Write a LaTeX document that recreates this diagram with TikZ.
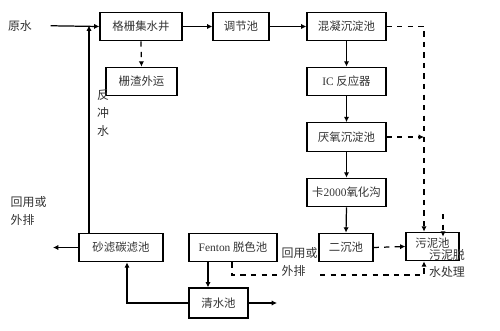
\documentclass[tikz,border=0pt]{standalone}
\usepackage{fontspec}
\setmainfont{Liberation Serif}
\newfontfamily\cjk{Noto Sans CJK SC}
\usetikzlibrary{arrows.meta}
\begin{document}
\begin{tikzpicture}[x=0.02cm,y=-0.02cm,line width=0.7pt,
  pool/.style={draw,minimum height=0.57cm,inner sep=1pt,text=black!80,font=\cjk\fontsize{6.5}{7.5}\selectfont},
  lbl/.style={text=black!80,font=\cjk\fontsize{6.8}{10}\selectfont,align=left,inner sep=0pt},
  flow/.style={-{Latex[length=3pt,width=3pt]}},
  sludge/.style={flow,dashed}]
  \useasboundingbox (0,0) rectangle (500,331);
  % treatment line
  \node[lbl] (raw) at (20,25.5) {原水};
  \node[pool,minimum width=1.64cm] (screen) at (141,26.5) {格栅集水井};
  \node[pool,minimum width=1.12cm] (equal) at (241,26.5) {调节池};
  \node[pool,minimum width=1.58cm] (coag) at (346.5,26.5) {混凝沉淀池};
  \node[pool,minimum width=1.42cm] (grit) at (141.5,81.5) {栅渣外运};
  \node[pool,minimum width=1.58cm] (ic) at (346.5,81.5) {{\rmfamily IC} 反应器};
  \node[pool,minimum width=1.58cm] (anaer) at (346.5,137) {厌氧沉淀池};
  \node[pool,minimum width=1.58cm] (ditch) at (346.5,192.5) {卡{\rmfamily 2000}氧化沟};
  \node[pool,minimum width=1.08cm] (settle) at (346,247.5) {二沉池};
  \node[pool,minimum width=1.06cm] (sludgepit) at (432.5,246.5) {\raisebox{4pt}{污泥池}};
  \node[pool,minimum width=1.76cm] (fenton) at (233,247.5) {{\rmfamily Fenton} 脱色池};
  \node[pool,minimum width=1.18cm,minimum height=0.6cm] (clear) at (218.5,303) {清水池};
  \node[pool,minimum width=1.68cm] (sand) at (121,247.5) {砂滤碳滤池};
  % labels
  \node[lbl,align=center] (backwash) at (103,113) {反\\冲\\水};
  \node[lbl,anchor=west] (reuseL) at (10,211) {回用或\\外排};
  \node[lbl,anchor=west] (reuseF) at (281,262) {回用或\\外排};
  \node[lbl] (dewater) at (447,263.5) {污泥脱\\水处理};
  % helper points
  \coordinate (bwfoot) at (89,233);
  \coordinate (bwtop) at (89,25.5);
  \coordinate (droptop) at (424,26.5);
  \coordinate (extra) at (443,214);
  \coordinate (fbend) at (232,275);
  \coordinate (fgap) at (277,275);
  \coordinate (fresume) at (320,275);
  \coordinate (fc) at (208,0);
  \coordinate (cs) at (127,0);
  \coordinate (clearout) at (277,303);
  \coordinate (reuse) at (53,247.5);
  % main flow
  \draw[flow,shorten <=0.36cm] (raw.east) -- (screen.west);
  \draw[flow] (screen.east) -- (equal.west);
  \draw[flow] (equal.east) -- (coag.west);
  \draw[flow] (coag.south) -- (ic.north);
  \draw[flow] (ic.south) -- (anaer.north);
  \draw[flow] (anaer.south) -- (ditch.north);
  \draw[flow] (ditch.south) -- (settle.north);
  \draw[flow] (fenton.south -| fc) -- (clear.north -| fc);
  \draw[flow] (clear.east) -- (clearout);
  \draw[flow] (clear.west) -| (sand.south -| cs);
  \draw[flow] (sand.west) -- (reuse);
  \draw[flow] (bwfoot) -- (bwtop);
  % sludge lines
  \draw[sludge] (screen.south) -- (grit.north);
  \draw[sludge] (coag.east) -- (droptop) -- (droptop |- sludgepit.north);
  \draw[sludge] (anaer.east) -- (anaer.east -| droptop);
  \draw[sludge] (settle.east) -- (sludgepit.west);
  \draw[sludge] (extra) -- ([yshift=-0.1cm]extra |- sludgepit.north);
  \draw[dashed] (fenton.south -| fbend) -- (fbend) -- (fgap);
  \draw[sludge] (fresume) -| (sludgepit.south -| droptop);
\end{tikzpicture}
\end{document}
